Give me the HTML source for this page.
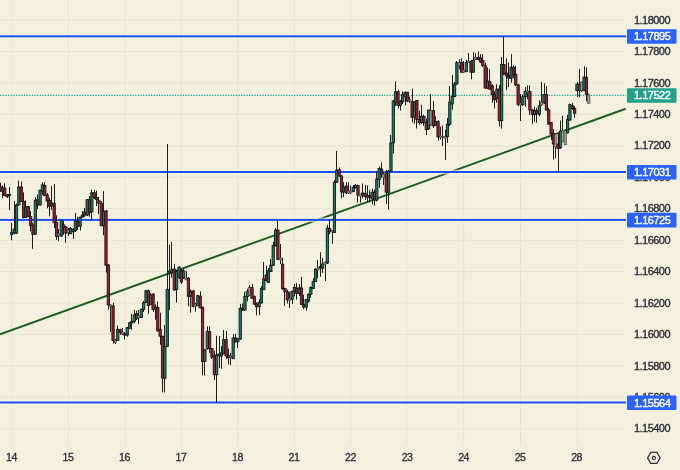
<!DOCTYPE html>
<html><head><meta charset="utf-8"><style>
html,body{margin:0;padding:0;background:#f3f0de;}
text{-webkit-font-smoothing:antialiased;}
svg{will-change:transform;}
body{width:680px;height:470px;overflow:hidden;position:relative;}
</style></head><body>
<svg width="680" height="470" viewBox="0 0 680 470" style="position:absolute;left:0;top:0">
<rect x="0" y="0" width="680" height="470" fill="#f3f0de"/>
<rect x="0" y="19.60" width="624.5" height="1" fill="#e7e3cf"/>
<rect x="0" y="51.04" width="624.5" height="1" fill="#e7e3cf"/>
<rect x="0" y="82.48" width="624.5" height="1" fill="#e7e3cf"/>
<rect x="0" y="113.92" width="624.5" height="1" fill="#e7e3cf"/>
<rect x="0" y="145.36" width="624.5" height="1" fill="#e7e3cf"/>
<rect x="0" y="176.80" width="624.5" height="1" fill="#e7e3cf"/>
<rect x="0" y="208.24" width="624.5" height="1" fill="#e7e3cf"/>
<rect x="0" y="239.68" width="624.5" height="1" fill="#e7e3cf"/>
<rect x="0" y="271.12" width="624.5" height="1" fill="#e7e3cf"/>
<rect x="0" y="302.56" width="624.5" height="1" fill="#e7e3cf"/>
<rect x="0" y="334.00" width="624.5" height="1" fill="#e7e3cf"/>
<rect x="0" y="365.44" width="624.5" height="1" fill="#e7e3cf"/>
<rect x="0" y="396.88" width="624.5" height="1" fill="#e7e3cf"/>
<rect x="0" y="428.32" width="624.5" height="1" fill="#e7e3cf"/>
<rect x="11.50" y="0" width="1" height="445" fill="#e7e3cf"/>
<rect x="68.00" y="0" width="1" height="445" fill="#e7e3cf"/>
<rect x="124.50" y="0" width="1" height="445" fill="#e7e3cf"/>
<rect x="180.90" y="0" width="1" height="445" fill="#e7e3cf"/>
<rect x="237.00" y="0" width="1" height="445" fill="#e7e3cf"/>
<rect x="293.70" y="0" width="1" height="445" fill="#e7e3cf"/>
<rect x="350.30" y="0" width="1" height="445" fill="#e7e3cf"/>
<rect x="406.50" y="0" width="1" height="445" fill="#e7e3cf"/>
<rect x="463.30" y="0" width="1" height="445" fill="#e7e3cf"/>
<rect x="520.00" y="0" width="1" height="445" fill="#e7e3cf"/>
<rect x="576.90" y="0" width="1" height="445" fill="#e7e3cf"/>
<line x1="0" y1="334.3" x2="625.7" y2="108.8" stroke="#1b5e20" stroke-width="2"/>
<rect x="0" y="34.10" width="626" height="1" fill="#fffce2" opacity="0.8"/>
<rect x="0" y="37.50" width="626" height="1" fill="#fffce2" opacity="0.8"/>
<rect x="0" y="35.30" width="626" height="2" fill="#1a4dff"/>
<rect x="0" y="169.80" width="626" height="1" fill="#fffce2" opacity="0.8"/>
<rect x="0" y="173.20" width="626" height="1" fill="#fffce2" opacity="0.8"/>
<rect x="0" y="171.00" width="626" height="2" fill="#1a4dff"/>
<rect x="0" y="217.70" width="626" height="1" fill="#fffce2" opacity="0.8"/>
<rect x="0" y="221.10" width="626" height="1" fill="#fffce2" opacity="0.8"/>
<rect x="0" y="218.90" width="626" height="2" fill="#1a4dff"/>
<rect x="0" y="400.30" width="626" height="1" fill="#fffce2" opacity="0.8"/>
<rect x="0" y="403.70" width="626" height="1" fill="#fffce2" opacity="0.8"/>
<rect x="0" y="401.50" width="626" height="2" fill="#1a4dff"/>
<line x1="0" y1="95.30" x2="626" y2="95.30" stroke="#1ea88e" stroke-width="1.15" stroke-dasharray="1.25 1.4"/>
<rect x="0" y="182.8" width="1" height="9.0" fill="#1e1e1c"/>
<rect x="-1.12" y="186.5" width="2.3" height="3.7" fill="#b5142c" stroke="#111414" stroke-width="0.85"/>
<rect x="2" y="185.4" width="1" height="12.8" fill="#1e1e1c"/>
<rect x="1.23" y="188.0" width="2.3" height="3.3" fill="#0f8068" stroke="#111414" stroke-width="0.85"/>
<rect x="4" y="183.3" width="1" height="12.7" fill="#1e1e1c"/>
<rect x="3.59" y="188.0" width="2.3" height="7.6" fill="#b5142c" stroke="#111414" stroke-width="0.85"/>
<rect x="7" y="194.0" width="1" height="4.0" fill="#1e1e1c"/>
<rect x="5.94" y="195.0" width="2.3" height="1.5" fill="#b5142c" stroke="#111414" stroke-width="0.85"/>
<rect x="9" y="187.0" width="1" height="23.0" fill="#1e1e1c"/>
<rect x="8.29" y="194.5" width="2.3" height="1.0" fill="#0f8068" stroke="#111414" stroke-width="0.85"/>
<rect x="11" y="222.7" width="1" height="17.6" fill="#1e1e1c"/>
<rect x="10.65" y="232.3" width="2.3" height="2.2" fill="#0f8068" stroke="#111414" stroke-width="0.85"/>
<rect x="14" y="200.9" width="1" height="33.6" fill="#1e1e1c"/>
<rect x="13.01" y="229.0" width="2.3" height="4.0" fill="#0f8068" stroke="#111414" stroke-width="0.85"/>
<rect x="16" y="203.5" width="1" height="30.5" fill="#1e1e1c"/>
<rect x="15.36" y="205.0" width="2.3" height="28.0" fill="#0f8068" stroke="#111414" stroke-width="0.85"/>
<rect x="18" y="180.7" width="1" height="24.8" fill="#1e1e1c"/>
<rect x="17.72" y="187.0" width="2.3" height="18.0" fill="#0f8068" stroke="#111414" stroke-width="0.85"/>
<rect x="21" y="181.5" width="1" height="20.5" fill="#1e1e1c"/>
<rect x="20.07" y="187.0" width="2.3" height="14.4" fill="#b5142c" stroke="#111414" stroke-width="0.85"/>
<rect x="23" y="192.4" width="1" height="26.0" fill="#1e1e1c"/>
<rect x="22.43" y="201.4" width="2.3" height="16.0" fill="#b5142c" stroke="#111414" stroke-width="0.85"/>
<rect x="25" y="200.3" width="1" height="17.7" fill="#1e1e1c"/>
<rect x="24.78" y="206.7" width="2.3" height="10.7" fill="#0f8068" stroke="#111414" stroke-width="0.85"/>
<rect x="28" y="206.0" width="1" height="11.0" fill="#1e1e1c"/>
<rect x="27.14" y="206.7" width="2.3" height="9.6" fill="#b5142c" stroke="#111414" stroke-width="0.85"/>
<rect x="30" y="211.0" width="1" height="20.3" fill="#1e1e1c"/>
<rect x="29.49" y="216.6" width="2.3" height="8.9" fill="#b5142c" stroke="#111414" stroke-width="0.85"/>
<rect x="32" y="222.7" width="1" height="26.1" fill="#1e1e1c"/>
<rect x="31.85" y="225.0" width="2.3" height="9.5" fill="#b5142c" stroke="#111414" stroke-width="0.85"/>
<rect x="35" y="197.0" width="1" height="37.5" fill="#1e1e1c"/>
<rect x="34.20" y="200.3" width="2.3" height="33.7" fill="#0f8068" stroke="#111414" stroke-width="0.85"/>
<rect x="37" y="194.5" width="1" height="14.4" fill="#1e1e1c"/>
<rect x="36.55" y="199.8" width="2.3" height="5.2" fill="#b5142c" stroke="#111414" stroke-width="0.85"/>
<rect x="40" y="189.8" width="1" height="15.7" fill="#1e1e1c"/>
<rect x="38.91" y="190.2" width="2.3" height="14.8" fill="#0f8068" stroke="#111414" stroke-width="0.85"/>
<rect x="42" y="182.3" width="1" height="12.7" fill="#1e1e1c"/>
<rect x="41.27" y="184.9" width="2.3" height="6.4" fill="#0f8068" stroke="#111414" stroke-width="0.85"/>
<rect x="44" y="182.3" width="1" height="13.7" fill="#1e1e1c"/>
<rect x="43.62" y="185.4" width="2.3" height="10.2" fill="#b5142c" stroke="#111414" stroke-width="0.85"/>
<rect x="47" y="193.0" width="1" height="15.3" fill="#1e1e1c"/>
<rect x="45.98" y="195.0" width="2.3" height="6.0" fill="#b5142c" stroke="#111414" stroke-width="0.85"/>
<rect x="49" y="197.7" width="1" height="18.6" fill="#1e1e1c"/>
<rect x="48.33" y="200.3" width="2.3" height="5.9" fill="#b5142c" stroke="#111414" stroke-width="0.85"/>
<rect x="51" y="186.0" width="1" height="24.0" fill="#1e1e1c"/>
<rect x="50.68" y="203.0" width="2.3" height="3.0" fill="#0f8068" stroke="#111414" stroke-width="0.85"/>
<rect x="54" y="184.0" width="1" height="44.0" fill="#1e1e1c"/>
<rect x="53.04" y="203.5" width="2.3" height="19.2" fill="#b5142c" stroke="#111414" stroke-width="0.85"/>
<rect x="56" y="215.3" width="1" height="24.5" fill="#1e1e1c"/>
<rect x="55.40" y="222.7" width="2.3" height="13.9" fill="#b5142c" stroke="#111414" stroke-width="0.85"/>
<rect x="58" y="229.0" width="1" height="11.9" fill="#1e1e1c"/>
<rect x="57.75" y="234.0" width="2.3" height="2.0" fill="#a09c92" stroke="#3c3c3a" stroke-width="0.6"/>
<rect x="61" y="220.0" width="1" height="17.0" fill="#1e1e1c"/>
<rect x="60.10" y="220.6" width="2.3" height="15.4" fill="#0f8068" stroke="#111414" stroke-width="0.85"/>
<rect x="63" y="221.0" width="1" height="13.8" fill="#1e1e1c"/>
<rect x="62.46" y="224.9" width="2.3" height="2.7" fill="#b5142c" stroke="#111414" stroke-width="0.85"/>
<rect x="65" y="226.0" width="1" height="16.7" fill="#1e1e1c"/>
<rect x="64.81" y="227.0" width="2.3" height="6.2" fill="#b5142c" stroke="#111414" stroke-width="0.85"/>
<rect x="68" y="228.0" width="1" height="8.0" fill="#1e1e1c"/>
<rect x="67.17" y="230.0" width="2.3" height="2.0" fill="#a09c92" stroke="#3c3c3a" stroke-width="0.6"/>
<rect x="70" y="227.0" width="1" height="7.0" fill="#1e1e1c"/>
<rect x="69.52" y="228.4" width="2.3" height="5.3" fill="#0f8068" stroke="#111414" stroke-width="0.85"/>
<rect x="73" y="228.0" width="1" height="11.0" fill="#1e1e1c"/>
<rect x="71.88" y="229.4" width="2.3" height="2.2" fill="#0f8068" stroke="#111414" stroke-width="0.85"/>
<rect x="75" y="213.0" width="1" height="19.0" fill="#1e1e1c"/>
<rect x="74.23" y="221.0" width="2.3" height="9.5" fill="#0f8068" stroke="#111414" stroke-width="0.85"/>
<rect x="77" y="216.7" width="1" height="13.3" fill="#1e1e1c"/>
<rect x="76.59" y="221.5" width="2.3" height="4.8" fill="#b5142c" stroke="#111414" stroke-width="0.85"/>
<rect x="80" y="216.7" width="1" height="13.8" fill="#1e1e1c"/>
<rect x="78.94" y="217.2" width="2.3" height="9.1" fill="#0f8068" stroke="#111414" stroke-width="0.85"/>
<rect x="82" y="211.0" width="1" height="6.8" fill="#1e1e1c"/>
<rect x="81.30" y="215.0" width="2.3" height="2.0" fill="#0f8068" stroke="#111414" stroke-width="0.85"/>
<rect x="84" y="208.0" width="1" height="9.0" fill="#1e1e1c"/>
<rect x="83.65" y="212.0" width="2.3" height="3.0" fill="#b5142c" stroke="#111414" stroke-width="0.85"/>
<rect x="87" y="199.0" width="1" height="17.0" fill="#1e1e1c"/>
<rect x="86.01" y="199.7" width="2.3" height="15.4" fill="#0f8068" stroke="#111414" stroke-width="0.85"/>
<rect x="89" y="196.0" width="1" height="20.7" fill="#1e1e1c"/>
<rect x="88.36" y="199.7" width="2.3" height="12.7" fill="#b5142c" stroke="#111414" stroke-width="0.85"/>
<rect x="91" y="189.6" width="1" height="31.4" fill="#1e1e1c"/>
<rect x="90.72" y="192.8" width="2.3" height="19.1" fill="#0f8068" stroke="#111414" stroke-width="0.85"/>
<rect x="94" y="190.0" width="1" height="9.0" fill="#1e1e1c"/>
<rect x="93.07" y="192.8" width="2.3" height="4.8" fill="#b5142c" stroke="#111414" stroke-width="0.85"/>
<rect x="96" y="190.6" width="1" height="15.4" fill="#1e1e1c"/>
<rect x="95.43" y="197.6" width="2.3" height="2.1" fill="#b5142c" stroke="#111414" stroke-width="0.85"/>
<rect x="98" y="197.0" width="1" height="17.0" fill="#1e1e1c"/>
<rect x="97.78" y="200.7" width="2.3" height="2.7" fill="#b5142c" stroke="#111414" stroke-width="0.85"/>
<rect x="101" y="201.0" width="1" height="25.3" fill="#1e1e1c"/>
<rect x="100.14" y="203.4" width="2.3" height="22.3" fill="#b5142c" stroke="#111414" stroke-width="0.85"/>
<rect x="103" y="191.2" width="1" height="44.1" fill="#1e1e1c"/>
<rect x="102.49" y="211.4" width="2.3" height="14.3" fill="#0f8068" stroke="#111414" stroke-width="0.85"/>
<rect x="106" y="210.0" width="1" height="62.6" fill="#1e1e1c"/>
<rect x="104.85" y="210.9" width="2.3" height="54.3" fill="#b5142c" stroke="#111414" stroke-width="0.85"/>
<rect x="108" y="264.0" width="1" height="45.6" fill="#1e1e1c"/>
<rect x="107.20" y="265.0" width="2.3" height="39.8" fill="#b5142c" stroke="#111414" stroke-width="0.85"/>
<rect x="110" y="304.3" width="1" height="27.7" fill="#1e1e1c"/>
<rect x="109.56" y="305.0" width="2.3" height="1.5" fill="#a09c92" stroke="#3c3c3a" stroke-width="0.6"/>
<rect x="113" y="302.7" width="1" height="40.9" fill="#1e1e1c"/>
<rect x="111.91" y="305.9" width="2.3" height="34.5" fill="#b5142c" stroke="#111414" stroke-width="0.85"/>
<rect x="115" y="339.0" width="1" height="5.0" fill="#1e1e1c"/>
<rect x="114.27" y="340.4" width="2.3" height="2.1" fill="#a09c92" stroke="#3c3c3a" stroke-width="0.6"/>
<rect x="117" y="325.5" width="1" height="15.5" fill="#1e1e1c"/>
<rect x="116.62" y="329.3" width="2.3" height="11.1" fill="#0f8068" stroke="#111414" stroke-width="0.85"/>
<rect x="120" y="328.7" width="1" height="6.3" fill="#1e1e1c"/>
<rect x="118.98" y="329.8" width="2.3" height="2.6" fill="#b5142c" stroke="#111414" stroke-width="0.85"/>
<rect x="122" y="328.0" width="1" height="7.0" fill="#1e1e1c"/>
<rect x="121.33" y="332.0" width="2.3" height="2.0" fill="#a09c92" stroke="#3c3c3a" stroke-width="0.6"/>
<rect x="124" y="332.0" width="1" height="7.4" fill="#1e1e1c"/>
<rect x="123.69" y="333.5" width="2.3" height="1.6" fill="#b5142c" stroke="#111414" stroke-width="0.85"/>
<rect x="127" y="327.0" width="1" height="9.7" fill="#1e1e1c"/>
<rect x="126.04" y="327.7" width="2.3" height="7.4" fill="#0f8068" stroke="#111414" stroke-width="0.85"/>
<rect x="129" y="322.0" width="1" height="7.0" fill="#1e1e1c"/>
<rect x="128.40" y="322.9" width="2.3" height="5.3" fill="#0f8068" stroke="#111414" stroke-width="0.85"/>
<rect x="131" y="313.8" width="1" height="16.0" fill="#1e1e1c"/>
<rect x="130.75" y="321.3" width="2.3" height="1.6" fill="#0f8068" stroke="#111414" stroke-width="0.85"/>
<rect x="134" y="310.0" width="1" height="13.4" fill="#1e1e1c"/>
<rect x="133.11" y="314.9" width="2.3" height="6.4" fill="#0f8068" stroke="#111414" stroke-width="0.85"/>
<rect x="136" y="310.6" width="1" height="9.4" fill="#1e1e1c"/>
<rect x="135.47" y="313.8" width="2.3" height="4.8" fill="#b5142c" stroke="#111414" stroke-width="0.85"/>
<rect x="138" y="310.0" width="1" height="14.0" fill="#1e1e1c"/>
<rect x="137.82" y="316.0" width="2.3" height="2.0" fill="#a09c92" stroke="#3c3c3a" stroke-width="0.6"/>
<rect x="141" y="308.5" width="1" height="9.5" fill="#1e1e1c"/>
<rect x="140.18" y="309.6" width="2.3" height="8.0" fill="#0f8068" stroke="#111414" stroke-width="0.85"/>
<rect x="143" y="301.1" width="1" height="10.9" fill="#1e1e1c"/>
<rect x="142.53" y="302.7" width="2.3" height="6.9" fill="#0f8068" stroke="#111414" stroke-width="0.85"/>
<rect x="146" y="290.2" width="1" height="12.8" fill="#1e1e1c"/>
<rect x="144.88" y="290.7" width="2.3" height="11.7" fill="#0f8068" stroke="#111414" stroke-width="0.85"/>
<rect x="148" y="289.7" width="1" height="24.1" fill="#1e1e1c"/>
<rect x="147.24" y="290.7" width="2.3" height="14.9" fill="#b5142c" stroke="#111414" stroke-width="0.85"/>
<rect x="150" y="293.0" width="1" height="12.0" fill="#1e1e1c"/>
<rect x="149.59" y="295.0" width="2.3" height="9.6" fill="#0f8068" stroke="#111414" stroke-width="0.85"/>
<rect x="153" y="293.5" width="1" height="18.5" fill="#1e1e1c"/>
<rect x="151.95" y="294.0" width="2.3" height="15.6" fill="#b5142c" stroke="#111414" stroke-width="0.85"/>
<rect x="155" y="304.3" width="1" height="15.4" fill="#1e1e1c"/>
<rect x="154.31" y="307.0" width="2.3" height="2.0" fill="#0f8068" stroke="#111414" stroke-width="0.85"/>
<rect x="157" y="301.4" width="1" height="30.1" fill="#1e1e1c"/>
<rect x="156.66" y="307.4" width="2.3" height="23.5" fill="#b5142c" stroke="#111414" stroke-width="0.85"/>
<rect x="160" y="312.8" width="1" height="31.9" fill="#1e1e1c"/>
<rect x="159.02" y="329.3" width="2.3" height="6.9" fill="#b5142c" stroke="#111414" stroke-width="0.85"/>
<rect x="162" y="336.0" width="1" height="56.4" fill="#1e1e1c"/>
<rect x="161.37" y="336.2" width="2.3" height="41.8" fill="#b5142c" stroke="#111414" stroke-width="0.85"/>
<rect x="164" y="325.0" width="1" height="67.4" fill="#1e1e1c"/>
<rect x="163.72" y="346.4" width="2.3" height="31.9" fill="#0f8068" stroke="#111414" stroke-width="0.85"/>
<rect x="167" y="144.0" width="1" height="203.0" fill="#1e1e1c"/>
<rect x="166.08" y="289.4" width="2.3" height="57.0" fill="#0f8068" stroke="#111414" stroke-width="0.85"/>
<rect x="169" y="245.0" width="1" height="65.0" fill="#1e1e1c"/>
<rect x="168.44" y="271.0" width="2.3" height="2.0" fill="#0f8068" stroke="#111414" stroke-width="0.85"/>
<rect x="171" y="242.0" width="1" height="35.7" fill="#1e1e1c"/>
<rect x="170.79" y="269.7" width="2.3" height="3.2" fill="#0f8068" stroke="#111414" stroke-width="0.85"/>
<rect x="174" y="263.8" width="1" height="26.7" fill="#1e1e1c"/>
<rect x="173.15" y="269.0" width="2.3" height="21.0" fill="#b5142c" stroke="#111414" stroke-width="0.85"/>
<rect x="176" y="270.0" width="1" height="32.6" fill="#1e1e1c"/>
<rect x="175.50" y="271.3" width="2.3" height="18.1" fill="#0f8068" stroke="#111414" stroke-width="0.85"/>
<rect x="179" y="266.5" width="1" height="12.5" fill="#1e1e1c"/>
<rect x="177.86" y="267.0" width="2.3" height="10.7" fill="#0f8068" stroke="#111414" stroke-width="0.85"/>
<rect x="181" y="268.0" width="1" height="16.0" fill="#1e1e1c"/>
<rect x="180.21" y="270.7" width="2.3" height="11.3" fill="#b5142c" stroke="#111414" stroke-width="0.85"/>
<rect x="183" y="268.6" width="1" height="10.4" fill="#1e1e1c"/>
<rect x="182.56" y="271.0" width="2.3" height="7.0" fill="#0f8068" stroke="#111414" stroke-width="0.85"/>
<rect x="186" y="271.3" width="1" height="8.7" fill="#1e1e1c"/>
<rect x="184.92" y="278.2" width="2.3" height="1.8" fill="#a09c92" stroke="#3c3c3a" stroke-width="0.6"/>
<rect x="188" y="277.0" width="1" height="29.3" fill="#1e1e1c"/>
<rect x="187.28" y="278.2" width="2.3" height="18.1" fill="#b5142c" stroke="#111414" stroke-width="0.85"/>
<rect x="190" y="289.4" width="1" height="23.3" fill="#1e1e1c"/>
<rect x="189.63" y="291.4" width="2.3" height="4.8" fill="#0f8068" stroke="#111414" stroke-width="0.85"/>
<rect x="193" y="289.9" width="1" height="17.5" fill="#1e1e1c"/>
<rect x="191.99" y="290.9" width="2.3" height="15.4" fill="#b5142c" stroke="#111414" stroke-width="0.85"/>
<rect x="195" y="303.0" width="1" height="8.6" fill="#1e1e1c"/>
<rect x="194.34" y="304.0" width="2.3" height="2.3" fill="#a09c92" stroke="#3c3c3a" stroke-width="0.6"/>
<rect x="197" y="295.0" width="1" height="11.0" fill="#1e1e1c"/>
<rect x="196.69" y="295.6" width="2.3" height="10.1" fill="#0f8068" stroke="#111414" stroke-width="0.85"/>
<rect x="200" y="291.4" width="1" height="17.1" fill="#1e1e1c"/>
<rect x="199.05" y="296.2" width="2.3" height="11.7" fill="#b5142c" stroke="#111414" stroke-width="0.85"/>
<rect x="202" y="306.5" width="1" height="68.9" fill="#1e1e1c"/>
<rect x="201.41" y="307.3" width="2.3" height="54.1" fill="#b5142c" stroke="#111414" stroke-width="0.85"/>
<rect x="204" y="349.0" width="1" height="26.4" fill="#1e1e1c"/>
<rect x="203.76" y="349.7" width="2.3" height="11.7" fill="#0f8068" stroke="#111414" stroke-width="0.85"/>
<rect x="207" y="326.3" width="1" height="23.4" fill="#1e1e1c"/>
<rect x="206.12" y="331.6" width="2.3" height="17.0" fill="#0f8068" stroke="#111414" stroke-width="0.85"/>
<rect x="209" y="326.3" width="1" height="26.6" fill="#1e1e1c"/>
<rect x="208.47" y="331.6" width="2.3" height="17.0" fill="#b5142c" stroke="#111414" stroke-width="0.85"/>
<rect x="211" y="348.0" width="1" height="11.0" fill="#1e1e1c"/>
<rect x="210.83" y="348.6" width="2.3" height="8.5" fill="#b5142c" stroke="#111414" stroke-width="0.85"/>
<rect x="214" y="350.7" width="1" height="29.2" fill="#1e1e1c"/>
<rect x="213.18" y="356.0" width="2.3" height="18.7" fill="#b5142c" stroke="#111414" stroke-width="0.85"/>
<rect x="216" y="335.8" width="1" height="66.8" fill="#1e1e1c"/>
<rect x="215.53" y="355.0" width="2.3" height="19.7" fill="#0f8068" stroke="#111414" stroke-width="0.85"/>
<rect x="219" y="336.0" width="1" height="32.0" fill="#1e1e1c"/>
<rect x="217.89" y="354.0" width="2.3" height="2.0" fill="#b5142c" stroke="#111414" stroke-width="0.85"/>
<rect x="221" y="346.0" width="1" height="22.8" fill="#1e1e1c"/>
<rect x="220.25" y="352.9" width="2.3" height="3.1" fill="#0f8068" stroke="#111414" stroke-width="0.85"/>
<rect x="223" y="330.0" width="1" height="24.5" fill="#1e1e1c"/>
<rect x="222.60" y="339.6" width="2.3" height="14.3" fill="#0f8068" stroke="#111414" stroke-width="0.85"/>
<rect x="226" y="331.0" width="1" height="28.2" fill="#1e1e1c"/>
<rect x="224.96" y="339.6" width="2.3" height="16.4" fill="#b5142c" stroke="#111414" stroke-width="0.85"/>
<rect x="228" y="348.6" width="1" height="15.8" fill="#1e1e1c"/>
<rect x="227.31" y="355.5" width="2.3" height="2.1" fill="#b5142c" stroke="#111414" stroke-width="0.85"/>
<rect x="230" y="352.9" width="1" height="12.2" fill="#1e1e1c"/>
<rect x="229.66" y="356.0" width="2.3" height="1.5" fill="#a09c92" stroke="#3c3c3a" stroke-width="0.6"/>
<rect x="233" y="334.2" width="1" height="24.8" fill="#1e1e1c"/>
<rect x="232.02" y="338.0" width="2.3" height="20.7" fill="#0f8068" stroke="#111414" stroke-width="0.85"/>
<rect x="235" y="333.7" width="1" height="8.8" fill="#1e1e1c"/>
<rect x="234.38" y="338.0" width="2.3" height="3.7" fill="#b5142c" stroke="#111414" stroke-width="0.85"/>
<rect x="237" y="338.0" width="1" height="10.0" fill="#1e1e1c"/>
<rect x="236.73" y="339.0" width="2.3" height="2.7" fill="#0f8068" stroke="#111414" stroke-width="0.85"/>
<rect x="240" y="304.0" width="1" height="36.0" fill="#1e1e1c"/>
<rect x="239.09" y="308.3" width="2.3" height="30.7" fill="#0f8068" stroke="#111414" stroke-width="0.85"/>
<rect x="242" y="303.5" width="1" height="7.5" fill="#1e1e1c"/>
<rect x="241.44" y="308.3" width="2.3" height="1.7" fill="#b5142c" stroke="#111414" stroke-width="0.85"/>
<rect x="244" y="291.8" width="1" height="19.2" fill="#1e1e1c"/>
<rect x="243.80" y="296.6" width="2.3" height="13.4" fill="#0f8068" stroke="#111414" stroke-width="0.85"/>
<rect x="247" y="288.6" width="1" height="12.8" fill="#1e1e1c"/>
<rect x="246.15" y="291.3" width="2.3" height="5.3" fill="#0f8068" stroke="#111414" stroke-width="0.85"/>
<rect x="249" y="285.0" width="1" height="11.0" fill="#1e1e1c"/>
<rect x="248.50" y="287.6" width="2.3" height="7.9" fill="#a09c92" stroke="#3c3c3a" stroke-width="0.6"/>
<rect x="252" y="283.9" width="1" height="15.1" fill="#1e1e1c"/>
<rect x="250.86" y="287.6" width="2.3" height="10.6" fill="#b5142c" stroke="#111414" stroke-width="0.85"/>
<rect x="254" y="295.5" width="1" height="9.5" fill="#1e1e1c"/>
<rect x="253.22" y="296.6" width="2.3" height="7.4" fill="#b5142c" stroke="#111414" stroke-width="0.85"/>
<rect x="256" y="302.5" width="1" height="12.7" fill="#1e1e1c"/>
<rect x="255.57" y="304.0" width="2.3" height="2.7" fill="#b5142c" stroke="#111414" stroke-width="0.85"/>
<rect x="259" y="299.3" width="1" height="15.9" fill="#1e1e1c"/>
<rect x="257.93" y="302.5" width="2.3" height="4.2" fill="#0f8068" stroke="#111414" stroke-width="0.85"/>
<rect x="261" y="286.0" width="1" height="17.5" fill="#1e1e1c"/>
<rect x="260.28" y="288.6" width="2.3" height="14.4" fill="#0f8068" stroke="#111414" stroke-width="0.85"/>
<rect x="263" y="262.0" width="1" height="28.0" fill="#1e1e1c"/>
<rect x="262.63" y="279.0" width="2.3" height="10.7" fill="#0f8068" stroke="#111414" stroke-width="0.85"/>
<rect x="266" y="265.8" width="1" height="15.7" fill="#1e1e1c"/>
<rect x="264.99" y="275.0" width="2.3" height="5.7" fill="#b5142c" stroke="#111414" stroke-width="0.85"/>
<rect x="268" y="268.0" width="1" height="15.0" fill="#1e1e1c"/>
<rect x="267.35" y="270.6" width="2.3" height="11.7" fill="#0f8068" stroke="#111414" stroke-width="0.85"/>
<rect x="270" y="258.9" width="1" height="13.1" fill="#1e1e1c"/>
<rect x="269.70" y="265.2" width="2.3" height="6.4" fill="#0f8068" stroke="#111414" stroke-width="0.85"/>
<rect x="273" y="241.8" width="1" height="24.2" fill="#1e1e1c"/>
<rect x="272.06" y="245.6" width="2.3" height="19.6" fill="#0f8068" stroke="#111414" stroke-width="0.85"/>
<rect x="275" y="228.0" width="1" height="18.5" fill="#1e1e1c"/>
<rect x="274.41" y="230.1" width="2.3" height="15.5" fill="#0f8068" stroke="#111414" stroke-width="0.85"/>
<rect x="277" y="220.3" width="1" height="39.7" fill="#1e1e1c"/>
<rect x="276.77" y="230.1" width="2.3" height="29.3" fill="#b5142c" stroke="#111414" stroke-width="0.85"/>
<rect x="280" y="244.0" width="1" height="20.0" fill="#1e1e1c"/>
<rect x="279.12" y="258.0" width="2.3" height="2.0" fill="#a09c92" stroke="#3c3c3a" stroke-width="0.6"/>
<rect x="282" y="257.8" width="1" height="32.2" fill="#1e1e1c"/>
<rect x="281.48" y="264.2" width="2.3" height="24.4" fill="#b5142c" stroke="#111414" stroke-width="0.85"/>
<rect x="284" y="287.6" width="1" height="18.1" fill="#1e1e1c"/>
<rect x="283.83" y="288.6" width="2.3" height="3.2" fill="#b5142c" stroke="#111414" stroke-width="0.85"/>
<rect x="287" y="289.7" width="1" height="13.8" fill="#1e1e1c"/>
<rect x="286.19" y="291.8" width="2.3" height="8.0" fill="#b5142c" stroke="#111414" stroke-width="0.85"/>
<rect x="289" y="291.8" width="1" height="16.0" fill="#1e1e1c"/>
<rect x="288.54" y="298.7" width="2.3" height="1.6" fill="#a09c92" stroke="#3c3c3a" stroke-width="0.6"/>
<rect x="292" y="290.5" width="1" height="13.5" fill="#1e1e1c"/>
<rect x="290.90" y="291.4" width="2.3" height="7.9" fill="#0f8068" stroke="#111414" stroke-width="0.85"/>
<rect x="294" y="284.0" width="1" height="12.4" fill="#1e1e1c"/>
<rect x="293.25" y="287.4" width="2.3" height="3.7" fill="#0f8068" stroke="#111414" stroke-width="0.85"/>
<rect x="296" y="283.0" width="1" height="16.6" fill="#1e1e1c"/>
<rect x="295.61" y="288.0" width="2.3" height="5.5" fill="#b5142c" stroke="#111414" stroke-width="0.85"/>
<rect x="299" y="284.0" width="1" height="12.0" fill="#1e1e1c"/>
<rect x="297.96" y="288.0" width="2.3" height="5.5" fill="#0f8068" stroke="#111414" stroke-width="0.85"/>
<rect x="301" y="276.8" width="1" height="28.2" fill="#1e1e1c"/>
<rect x="300.32" y="288.0" width="2.3" height="16.4" fill="#b5142c" stroke="#111414" stroke-width="0.85"/>
<rect x="303" y="294.8" width="1" height="14.3" fill="#1e1e1c"/>
<rect x="302.67" y="304.4" width="2.3" height="2.7" fill="#b5142c" stroke="#111414" stroke-width="0.85"/>
<rect x="306" y="298.9" width="1" height="11.6" fill="#1e1e1c"/>
<rect x="305.03" y="299.6" width="2.3" height="7.5" fill="#0f8068" stroke="#111414" stroke-width="0.85"/>
<rect x="308" y="293.5" width="1" height="9.1" fill="#1e1e1c"/>
<rect x="307.38" y="294.2" width="2.3" height="6.8" fill="#0f8068" stroke="#111414" stroke-width="0.85"/>
<rect x="310" y="286.4" width="1" height="11.2" fill="#1e1e1c"/>
<rect x="309.74" y="287.4" width="2.3" height="6.8" fill="#0f8068" stroke="#111414" stroke-width="0.85"/>
<rect x="313" y="278.2" width="1" height="10.8" fill="#1e1e1c"/>
<rect x="312.09" y="281.6" width="2.3" height="6.8" fill="#0f8068" stroke="#111414" stroke-width="0.85"/>
<rect x="315" y="268.0" width="1" height="14.0" fill="#1e1e1c"/>
<rect x="314.45" y="269.4" width="2.3" height="12.2" fill="#0f8068" stroke="#111414" stroke-width="0.85"/>
<rect x="317" y="260.2" width="1" height="18.0" fill="#1e1e1c"/>
<rect x="316.80" y="268.0" width="2.3" height="2.0" fill="#a09c92" stroke="#3c3c3a" stroke-width="0.6"/>
<rect x="320" y="252.2" width="1" height="24.5" fill="#1e1e1c"/>
<rect x="319.16" y="266.6" width="2.3" height="1.6" fill="#b5142c" stroke="#111414" stroke-width="0.85"/>
<rect x="322" y="258.0" width="1" height="15.0" fill="#1e1e1c"/>
<rect x="321.51" y="264.0" width="2.3" height="4.2" fill="#0f8068" stroke="#111414" stroke-width="0.85"/>
<rect x="325" y="261.3" width="1" height="19.7" fill="#1e1e1c"/>
<rect x="323.87" y="262.3" width="2.3" height="2.2" fill="#a09c92" stroke="#3c3c3a" stroke-width="0.6"/>
<rect x="327" y="224.7" width="1" height="39.3" fill="#1e1e1c"/>
<rect x="326.22" y="228.0" width="2.3" height="35.0" fill="#0f8068" stroke="#111414" stroke-width="0.85"/>
<rect x="329" y="219.6" width="1" height="14.7" fill="#1e1e1c"/>
<rect x="328.58" y="228.6" width="2.3" height="3.2" fill="#b5142c" stroke="#111414" stroke-width="0.85"/>
<rect x="332" y="230.0" width="1" height="13.9" fill="#1e1e1c"/>
<rect x="330.93" y="230.5" width="2.3" height="1.5" fill="#a09c92" stroke="#3c3c3a" stroke-width="0.6"/>
<rect x="334" y="180.0" width="1" height="53.0" fill="#1e1e1c"/>
<rect x="333.29" y="182.3" width="2.3" height="50.1" fill="#0f8068" stroke="#111414" stroke-width="0.85"/>
<rect x="336" y="151.0" width="1" height="32.0" fill="#1e1e1c"/>
<rect x="335.64" y="170.1" width="2.3" height="12.2" fill="#0f8068" stroke="#111414" stroke-width="0.85"/>
<rect x="339" y="167.4" width="1" height="9.6" fill="#1e1e1c"/>
<rect x="338.00" y="169.6" width="2.3" height="6.4" fill="#b5142c" stroke="#111414" stroke-width="0.85"/>
<rect x="341" y="174.9" width="1" height="23.4" fill="#1e1e1c"/>
<rect x="340.35" y="176.0" width="2.3" height="15.9" fill="#b5142c" stroke="#111414" stroke-width="0.85"/>
<rect x="343" y="182.3" width="1" height="14.9" fill="#1e1e1c"/>
<rect x="342.71" y="187.1" width="2.3" height="4.8" fill="#0f8068" stroke="#111414" stroke-width="0.85"/>
<rect x="346" y="182.3" width="1" height="11.7" fill="#1e1e1c"/>
<rect x="345.06" y="186.0" width="2.3" height="7.0" fill="#b5142c" stroke="#111414" stroke-width="0.85"/>
<rect x="348" y="182.3" width="1" height="11.7" fill="#1e1e1c"/>
<rect x="347.42" y="190.9" width="2.3" height="2.1" fill="#a09c92" stroke="#3c3c3a" stroke-width="0.6"/>
<rect x="350" y="185.5" width="1" height="8.5" fill="#1e1e1c"/>
<rect x="349.77" y="190.9" width="2.3" height="2.1" fill="#a09c92" stroke="#3c3c3a" stroke-width="0.6"/>
<rect x="353" y="185.0" width="1" height="7.0" fill="#1e1e1c"/>
<rect x="352.13" y="187.1" width="2.3" height="4.3" fill="#0f8068" stroke="#111414" stroke-width="0.85"/>
<rect x="355" y="184.0" width="1" height="4.5" fill="#1e1e1c"/>
<rect x="354.48" y="185.5" width="2.3" height="2.2" fill="#0f8068" stroke="#111414" stroke-width="0.85"/>
<rect x="357" y="184.5" width="1" height="18.1" fill="#1e1e1c"/>
<rect x="356.84" y="185.5" width="2.3" height="9.6" fill="#b5142c" stroke="#111414" stroke-width="0.85"/>
<rect x="360" y="194.0" width="1" height="8.6" fill="#1e1e1c"/>
<rect x="359.19" y="194.0" width="2.3" height="2.2" fill="#a09c92" stroke="#3c3c3a" stroke-width="0.6"/>
<rect x="362" y="183.4" width="1" height="14.9" fill="#1e1e1c"/>
<rect x="361.55" y="193.0" width="2.3" height="2.1" fill="#0f8068" stroke="#111414" stroke-width="0.85"/>
<rect x="365" y="185.0" width="1" height="14.9" fill="#1e1e1c"/>
<rect x="363.90" y="193.5" width="2.3" height="3.2" fill="#b5142c" stroke="#111414" stroke-width="0.85"/>
<rect x="367" y="185.5" width="1" height="17.3" fill="#1e1e1c"/>
<rect x="366.26" y="195.6" width="2.3" height="1.6" fill="#0f8068" stroke="#111414" stroke-width="0.85"/>
<rect x="369" y="189.8" width="1" height="12.8" fill="#1e1e1c"/>
<rect x="368.61" y="195.6" width="2.3" height="1.6" fill="#b5142c" stroke="#111414" stroke-width="0.85"/>
<rect x="372" y="188.7" width="1" height="16.0" fill="#1e1e1c"/>
<rect x="370.97" y="192.2" width="2.3" height="6.6" fill="#0f8068" stroke="#111414" stroke-width="0.85"/>
<rect x="374" y="189.6" width="1" height="16.1" fill="#1e1e1c"/>
<rect x="373.32" y="192.2" width="2.3" height="7.9" fill="#b5142c" stroke="#111414" stroke-width="0.85"/>
<rect x="376" y="171.7" width="1" height="29.8" fill="#1e1e1c"/>
<rect x="375.68" y="179.0" width="2.3" height="21.1" fill="#0f8068" stroke="#111414" stroke-width="0.85"/>
<rect x="379" y="166.5" width="1" height="21.2" fill="#1e1e1c"/>
<rect x="378.03" y="168.5" width="2.3" height="11.2" fill="#0f8068" stroke="#111414" stroke-width="0.85"/>
<rect x="381" y="162.5" width="1" height="15.2" fill="#1e1e1c"/>
<rect x="380.39" y="169.1" width="2.3" height="5.3" fill="#b5142c" stroke="#111414" stroke-width="0.85"/>
<rect x="383" y="172.4" width="1" height="12.6" fill="#1e1e1c"/>
<rect x="382.74" y="174.0" width="2.3" height="4.0" fill="#a09c92" stroke="#3c3c3a" stroke-width="0.6"/>
<rect x="386" y="169.8" width="1" height="34.3" fill="#1e1e1c"/>
<rect x="385.10" y="173.7" width="2.3" height="18.5" fill="#b5142c" stroke="#111414" stroke-width="0.85"/>
<rect x="388" y="170.0" width="1" height="39.4" fill="#1e1e1c"/>
<rect x="387.45" y="171.1" width="2.3" height="21.1" fill="#0f8068" stroke="#111414" stroke-width="0.85"/>
<rect x="390" y="134.9" width="1" height="37.1" fill="#1e1e1c"/>
<rect x="389.81" y="142.9" width="2.3" height="28.2" fill="#0f8068" stroke="#111414" stroke-width="0.85"/>
<rect x="393" y="99.9" width="1" height="53.6" fill="#1e1e1c"/>
<rect x="392.16" y="101.0" width="2.3" height="41.9" fill="#0f8068" stroke="#111414" stroke-width="0.85"/>
<rect x="395" y="81.3" width="1" height="24.7" fill="#1e1e1c"/>
<rect x="394.52" y="91.7" width="2.3" height="10.5" fill="#0f8068" stroke="#111414" stroke-width="0.85"/>
<rect x="398" y="89.8" width="1" height="18.6" fill="#1e1e1c"/>
<rect x="396.87" y="91.7" width="2.3" height="13.8" fill="#b5142c" stroke="#111414" stroke-width="0.85"/>
<rect x="400" y="99.9" width="1" height="10.7" fill="#1e1e1c"/>
<rect x="399.23" y="101.7" width="2.3" height="3.8" fill="#0f8068" stroke="#111414" stroke-width="0.85"/>
<rect x="402" y="91.4" width="1" height="12.6" fill="#1e1e1c"/>
<rect x="401.58" y="94.5" width="2.3" height="7.2" fill="#0f8068" stroke="#111414" stroke-width="0.85"/>
<rect x="405" y="91.4" width="1" height="14.1" fill="#1e1e1c"/>
<rect x="403.94" y="92.3" width="2.3" height="4.4" fill="#0f8068" stroke="#111414" stroke-width="0.85"/>
<rect x="407" y="92.0" width="1" height="10.0" fill="#1e1e1c"/>
<rect x="406.29" y="92.3" width="2.3" height="8.8" fill="#b5142c" stroke="#111414" stroke-width="0.85"/>
<rect x="409" y="96.7" width="1" height="6.1" fill="#1e1e1c"/>
<rect x="408.65" y="99.8" width="2.3" height="1.2" fill="#a09c92" stroke="#3c3c3a" stroke-width="0.6"/>
<rect x="412" y="88.7" width="1" height="33.9" fill="#1e1e1c"/>
<rect x="411.00" y="101.7" width="2.3" height="15.6" fill="#b5142c" stroke="#111414" stroke-width="0.85"/>
<rect x="414" y="101.0" width="1" height="22.7" fill="#1e1e1c"/>
<rect x="413.36" y="102.0" width="2.3" height="14.8" fill="#0f8068" stroke="#111414" stroke-width="0.85"/>
<rect x="416" y="100.0" width="1" height="28.5" fill="#1e1e1c"/>
<rect x="415.71" y="100.4" width="2.3" height="19.0" fill="#b5142c" stroke="#111414" stroke-width="0.85"/>
<rect x="419" y="110.6" width="1" height="14.2" fill="#1e1e1c"/>
<rect x="418.07" y="119.4" width="2.3" height="3.2" fill="#b5142c" stroke="#111414" stroke-width="0.85"/>
<rect x="421" y="104.7" width="1" height="19.3" fill="#1e1e1c"/>
<rect x="420.42" y="116.3" width="2.3" height="6.3" fill="#0f8068" stroke="#111414" stroke-width="0.85"/>
<rect x="423" y="114.7" width="1" height="11.1" fill="#1e1e1c"/>
<rect x="422.78" y="116.3" width="2.3" height="6.3" fill="#b5142c" stroke="#111414" stroke-width="0.85"/>
<rect x="426" y="118.4" width="1" height="16.5" fill="#1e1e1c"/>
<rect x="425.13" y="122.6" width="2.3" height="7.0" fill="#b5142c" stroke="#111414" stroke-width="0.85"/>
<rect x="428" y="110.0" width="1" height="20.0" fill="#1e1e1c"/>
<rect x="427.49" y="110.0" width="2.3" height="19.0" fill="#0f8068" stroke="#111414" stroke-width="0.85"/>
<rect x="430" y="94.1" width="1" height="31.9" fill="#1e1e1c"/>
<rect x="429.84" y="110.6" width="2.3" height="14.2" fill="#a09c92" stroke="#3c3c3a" stroke-width="0.6"/>
<rect x="433" y="101.0" width="1" height="27.0" fill="#1e1e1c"/>
<rect x="432.20" y="110.6" width="2.3" height="15.2" fill="#b5142c" stroke="#111414" stroke-width="0.85"/>
<rect x="435" y="116.3" width="1" height="9.7" fill="#1e1e1c"/>
<rect x="434.55" y="121.6" width="2.3" height="3.7" fill="#0f8068" stroke="#111414" stroke-width="0.85"/>
<rect x="438" y="120.0" width="1" height="20.7" fill="#1e1e1c"/>
<rect x="436.91" y="121.6" width="2.3" height="15.4" fill="#b5142c" stroke="#111414" stroke-width="0.85"/>
<rect x="440" y="126.6" width="1" height="13.1" fill="#1e1e1c"/>
<rect x="439.26" y="136.0" width="2.3" height="1.5" fill="#a09c92" stroke="#3c3c3a" stroke-width="0.6"/>
<rect x="442" y="125.3" width="1" height="20.7" fill="#1e1e1c"/>
<rect x="441.62" y="136.5" width="2.3" height="1.0" fill="#a09c92" stroke="#3c3c3a" stroke-width="0.6"/>
<rect x="445" y="129.8" width="1" height="30.1" fill="#1e1e1c"/>
<rect x="443.97" y="136.5" width="2.3" height="2.1" fill="#a09c92" stroke="#3c3c3a" stroke-width="0.6"/>
<rect x="447" y="117.9" width="1" height="25.0" fill="#1e1e1c"/>
<rect x="446.33" y="124.2" width="2.3" height="12.3" fill="#0f8068" stroke="#111414" stroke-width="0.85"/>
<rect x="449" y="86.0" width="1" height="40.0" fill="#1e1e1c"/>
<rect x="448.68" y="102.0" width="2.3" height="22.2" fill="#0f8068" stroke="#111414" stroke-width="0.85"/>
<rect x="452" y="75.0" width="1" height="34.6" fill="#1e1e1c"/>
<rect x="451.04" y="96.6" width="2.3" height="7.4" fill="#0f8068" stroke="#111414" stroke-width="0.85"/>
<rect x="454" y="82.0" width="1" height="15.0" fill="#1e1e1c"/>
<rect x="453.39" y="84.0" width="2.3" height="12.7" fill="#0f8068" stroke="#111414" stroke-width="0.85"/>
<rect x="456" y="61.0" width="1" height="24.0" fill="#1e1e1c"/>
<rect x="455.75" y="62.6" width="2.3" height="21.4" fill="#0f8068" stroke="#111414" stroke-width="0.85"/>
<rect x="459" y="59.3" width="1" height="10.1" fill="#1e1e1c"/>
<rect x="458.10" y="62.6" width="2.3" height="3.2" fill="#a09c92" stroke="#3c3c3a" stroke-width="0.6"/>
<rect x="461" y="58.4" width="1" height="14.2" fill="#1e1e1c"/>
<rect x="460.46" y="62.6" width="2.3" height="9.6" fill="#b5142c" stroke="#111414" stroke-width="0.85"/>
<rect x="463" y="61.0" width="1" height="12.0" fill="#1e1e1c"/>
<rect x="462.81" y="70.0" width="2.3" height="2.1" fill="#a09c92" stroke="#3c3c3a" stroke-width="0.6"/>
<rect x="466" y="59.9" width="1" height="11.8" fill="#1e1e1c"/>
<rect x="465.17" y="62.6" width="2.3" height="9.1" fill="#0f8068" stroke="#111414" stroke-width="0.85"/>
<rect x="468" y="53.0" width="1" height="9.6" fill="#1e1e1c"/>
<rect x="467.52" y="61.0" width="2.3" height="1.6" fill="#a09c92" stroke="#3c3c3a" stroke-width="0.6"/>
<rect x="471" y="60.0" width="1" height="19.5" fill="#1e1e1c"/>
<rect x="469.88" y="61.6" width="2.3" height="10.6" fill="#b5142c" stroke="#111414" stroke-width="0.85"/>
<rect x="473" y="52.1" width="1" height="20.9" fill="#1e1e1c"/>
<rect x="472.23" y="60.0" width="2.3" height="12.1" fill="#0f8068" stroke="#111414" stroke-width="0.85"/>
<rect x="475" y="53.1" width="1" height="6.9" fill="#1e1e1c"/>
<rect x="474.59" y="57.4" width="2.3" height="1.9" fill="#a09c92" stroke="#3c3c3a" stroke-width="0.6"/>
<rect x="478" y="51.5" width="1" height="8.5" fill="#1e1e1c"/>
<rect x="476.94" y="57.4" width="2.3" height="2.1" fill="#b5142c" stroke="#111414" stroke-width="0.85"/>
<rect x="480" y="54.2" width="1" height="8.8" fill="#1e1e1c"/>
<rect x="479.30" y="57.9" width="2.3" height="4.1" fill="#b5142c" stroke="#111414" stroke-width="0.85"/>
<rect x="482" y="54.2" width="1" height="12.6" fill="#1e1e1c"/>
<rect x="481.65" y="60.4" width="2.3" height="5.3" fill="#b5142c" stroke="#111414" stroke-width="0.85"/>
<rect x="485" y="62.7" width="1" height="26.3" fill="#1e1e1c"/>
<rect x="484.01" y="65.7" width="2.3" height="22.3" fill="#b5142c" stroke="#111414" stroke-width="0.85"/>
<rect x="487" y="67.3" width="1" height="21.7" fill="#1e1e1c"/>
<rect x="486.36" y="81.1" width="2.3" height="6.9" fill="#0f8068" stroke="#111414" stroke-width="0.85"/>
<rect x="489" y="69.0" width="1" height="21.0" fill="#1e1e1c"/>
<rect x="488.72" y="81.7" width="2.3" height="7.4" fill="#b5142c" stroke="#111414" stroke-width="0.85"/>
<rect x="492" y="84.3" width="1" height="18.4" fill="#1e1e1c"/>
<rect x="491.07" y="85.9" width="2.3" height="8.5" fill="#b5142c" stroke="#111414" stroke-width="0.85"/>
<rect x="494" y="91.2" width="1" height="17.3" fill="#1e1e1c"/>
<rect x="493.43" y="94.4" width="2.3" height="5.3" fill="#b5142c" stroke="#111414" stroke-width="0.85"/>
<rect x="496" y="84.3" width="1" height="18.4" fill="#1e1e1c"/>
<rect x="495.78" y="89.1" width="2.3" height="9.6" fill="#0f8068" stroke="#111414" stroke-width="0.85"/>
<rect x="499" y="84.9" width="1" height="41.7" fill="#1e1e1c"/>
<rect x="498.14" y="89.1" width="2.3" height="31.6" fill="#b5142c" stroke="#111414" stroke-width="0.85"/>
<rect x="501" y="56.9" width="1" height="71.8" fill="#1e1e1c"/>
<rect x="500.49" y="64.6" width="2.3" height="56.1" fill="#0f8068" stroke="#111414" stroke-width="0.85"/>
<rect x="503" y="36.6" width="1" height="38.4" fill="#1e1e1c"/>
<rect x="502.85" y="64.6" width="2.3" height="9.6" fill="#b5142c" stroke="#111414" stroke-width="0.85"/>
<rect x="506" y="58.3" width="1" height="31.9" fill="#1e1e1c"/>
<rect x="505.20" y="73.1" width="2.3" height="2.2" fill="#b5142c" stroke="#111414" stroke-width="0.85"/>
<rect x="508" y="62.5" width="1" height="24.5" fill="#1e1e1c"/>
<rect x="507.56" y="75.3" width="2.3" height="2.7" fill="#b5142c" stroke="#111414" stroke-width="0.85"/>
<rect x="511" y="54.2" width="1" height="28.6" fill="#1e1e1c"/>
<rect x="509.91" y="67.3" width="2.3" height="11.2" fill="#0f8068" stroke="#111414" stroke-width="0.85"/>
<rect x="513" y="65.0" width="1" height="13.0" fill="#1e1e1c"/>
<rect x="512.26" y="67.3" width="2.3" height="7.4" fill="#b5142c" stroke="#111414" stroke-width="0.85"/>
<rect x="515" y="66.0" width="1" height="20.0" fill="#1e1e1c"/>
<rect x="514.62" y="74.2" width="2.3" height="10.7" fill="#b5142c" stroke="#111414" stroke-width="0.85"/>
<rect x="518" y="83.8" width="1" height="22.4" fill="#1e1e1c"/>
<rect x="516.98" y="84.9" width="2.3" height="19.7" fill="#b5142c" stroke="#111414" stroke-width="0.85"/>
<rect x="520" y="94.0" width="1" height="27.0" fill="#1e1e1c"/>
<rect x="519.33" y="103.0" width="2.3" height="2.0" fill="#a09c92" stroke="#3c3c3a" stroke-width="0.6"/>
<rect x="522" y="94.5" width="1" height="11.5" fill="#1e1e1c"/>
<rect x="521.68" y="96.6" width="2.3" height="8.0" fill="#0f8068" stroke="#111414" stroke-width="0.85"/>
<rect x="525" y="87.0" width="1" height="19.7" fill="#1e1e1c"/>
<rect x="524.04" y="91.3" width="2.3" height="5.3" fill="#0f8068" stroke="#111414" stroke-width="0.85"/>
<rect x="527" y="85.4" width="1" height="13.9" fill="#1e1e1c"/>
<rect x="526.39" y="91.0" width="2.3" height="1.5" fill="#a09c92" stroke="#3c3c3a" stroke-width="0.6"/>
<rect x="529" y="85.4" width="1" height="29.3" fill="#1e1e1c"/>
<rect x="528.75" y="91.5" width="2.3" height="18.5" fill="#b5142c" stroke="#111414" stroke-width="0.85"/>
<rect x="532" y="108.9" width="1" height="14.8" fill="#1e1e1c"/>
<rect x="531.11" y="110.0" width="2.3" height="4.5" fill="#b5142c" stroke="#111414" stroke-width="0.85"/>
<rect x="534" y="106.7" width="1" height="14.9" fill="#1e1e1c"/>
<rect x="533.46" y="110.5" width="2.3" height="4.0" fill="#0f8068" stroke="#111414" stroke-width="0.85"/>
<rect x="536" y="107.8" width="1" height="14.9" fill="#1e1e1c"/>
<rect x="535.81" y="110.5" width="2.3" height="3.5" fill="#b5142c" stroke="#111414" stroke-width="0.85"/>
<rect x="539" y="100.3" width="1" height="16.0" fill="#1e1e1c"/>
<rect x="538.17" y="105.7" width="2.3" height="8.5" fill="#0f8068" stroke="#111414" stroke-width="0.85"/>
<rect x="541" y="81.7" width="1" height="24.3" fill="#1e1e1c"/>
<rect x="540.52" y="102.0" width="2.3" height="3.0" fill="#a09c92" stroke="#3c3c3a" stroke-width="0.6"/>
<rect x="544" y="83.3" width="1" height="20.7" fill="#1e1e1c"/>
<rect x="542.88" y="94.5" width="2.3" height="8.5" fill="#0f8068" stroke="#111414" stroke-width="0.85"/>
<rect x="546" y="86.0" width="1" height="24.5" fill="#1e1e1c"/>
<rect x="545.24" y="94.5" width="2.3" height="15.4" fill="#b5142c" stroke="#111414" stroke-width="0.85"/>
<rect x="548" y="108.0" width="1" height="16.8" fill="#1e1e1c"/>
<rect x="547.59" y="109.9" width="2.3" height="14.1" fill="#b5142c" stroke="#111414" stroke-width="0.85"/>
<rect x="551" y="122.0" width="1" height="18.0" fill="#1e1e1c"/>
<rect x="549.94" y="122.5" width="2.3" height="11.5" fill="#b5142c" stroke="#111414" stroke-width="0.85"/>
<rect x="553" y="129.0" width="1" height="30.7" fill="#1e1e1c"/>
<rect x="552.30" y="133.7" width="2.3" height="10.2" fill="#b5142c" stroke="#111414" stroke-width="0.85"/>
<rect x="555" y="133.0" width="1" height="25.3" fill="#1e1e1c"/>
<rect x="554.65" y="134.0" width="2.3" height="13.0" fill="#a09c92" stroke="#3c3c3a" stroke-width="0.6"/>
<rect x="558" y="134.0" width="1" height="38.5" fill="#1e1e1c"/>
<rect x="557.01" y="143.9" width="2.3" height="4.7" fill="#b5142c" stroke="#111414" stroke-width="0.85"/>
<rect x="560" y="120.5" width="1" height="28.5" fill="#1e1e1c"/>
<rect x="559.37" y="131.1" width="2.3" height="16.4" fill="#0f8068" stroke="#111414" stroke-width="0.85"/>
<rect x="562" y="115.8" width="1" height="26.2" fill="#1e1e1c"/>
<rect x="561.72" y="131.0" width="2.3" height="10.8" fill="#a09c92" stroke="#3c3c3a" stroke-width="0.6"/>
<rect x="565" y="129.0" width="1" height="16.0" fill="#1e1e1c"/>
<rect x="564.07" y="130.7" width="2.3" height="14.1" fill="#a09c92" stroke="#3c3c3a" stroke-width="0.6"/>
<rect x="567" y="115.0" width="1" height="18.5" fill="#1e1e1c"/>
<rect x="566.43" y="119.6" width="2.3" height="13.2" fill="#0f8068" stroke="#111414" stroke-width="0.85"/>
<rect x="569" y="103.5" width="1" height="17.5" fill="#1e1e1c"/>
<rect x="568.78" y="104.6" width="2.3" height="15.5" fill="#0f8068" stroke="#111414" stroke-width="0.85"/>
<rect x="572" y="103.0" width="1" height="7.0" fill="#1e1e1c"/>
<rect x="571.14" y="105.8" width="2.3" height="2.8" fill="#b5142c" stroke="#111414" stroke-width="0.85"/>
<rect x="574" y="106.0" width="1" height="11.8" fill="#1e1e1c"/>
<rect x="573.50" y="108.6" width="2.3" height="4.6" fill="#b5142c" stroke="#111414" stroke-width="0.85"/>
<rect x="577" y="81.8" width="1" height="15.3" fill="#1e1e1c"/>
<rect x="575.85" y="84.0" width="2.3" height="6.6" fill="#0f8068" stroke="#111414" stroke-width="0.85"/>
<rect x="579" y="69.0" width="1" height="28.1" fill="#1e1e1c"/>
<rect x="578.20" y="84.5" width="2.3" height="6.1" fill="#b5142c" stroke="#111414" stroke-width="0.85"/>
<rect x="581" y="81.5" width="1" height="10.4" fill="#1e1e1c"/>
<rect x="580.56" y="82.3" width="2.3" height="8.6" fill="#a09c92" stroke="#3c3c3a" stroke-width="0.6"/>
<rect x="584" y="66.2" width="1" height="24.8" fill="#1e1e1c"/>
<rect x="582.91" y="77.0" width="2.3" height="13.6" fill="#0f8068" stroke="#111414" stroke-width="0.85"/>
<rect x="586" y="67.6" width="1" height="33.7" fill="#1e1e1c"/>
<rect x="585.27" y="77.4" width="2.3" height="16.9" fill="#b5142c" stroke="#111414" stroke-width="0.85"/>
<rect x="588" y="93.5" width="1" height="10.1" fill="#1e1e1c"/>
<rect x="587.62" y="95.0" width="2.3" height="8.2" fill="#a09c92" stroke="#3c3c3a" stroke-width="0.6"/>
<text x="634" y="23.70" font-family="'Liberation Sans', Arial, sans-serif" font-size="11" fill="#2a2e39" stroke="#2a2e39" stroke-width="0.35" textLength="36.5" lengthAdjust="spacing">1.18000</text>
<text x="634" y="55.14" font-family="'Liberation Sans', Arial, sans-serif" font-size="11" fill="#2a2e39" stroke="#2a2e39" stroke-width="0.35" textLength="36.5" lengthAdjust="spacing">1.17800</text>
<text x="634" y="86.58" font-family="'Liberation Sans', Arial, sans-serif" font-size="11" fill="#2a2e39" stroke="#2a2e39" stroke-width="0.35" textLength="36.5" lengthAdjust="spacing">1.17600</text>
<text x="634" y="118.02" font-family="'Liberation Sans', Arial, sans-serif" font-size="11" fill="#2a2e39" stroke="#2a2e39" stroke-width="0.35" textLength="36.5" lengthAdjust="spacing">1.17400</text>
<text x="634" y="149.46" font-family="'Liberation Sans', Arial, sans-serif" font-size="11" fill="#2a2e39" stroke="#2a2e39" stroke-width="0.35" textLength="36.5" lengthAdjust="spacing">1.17200</text>
<text x="634" y="180.90" font-family="'Liberation Sans', Arial, sans-serif" font-size="11" fill="#2a2e39" stroke="#2a2e39" stroke-width="0.35" textLength="36.5" lengthAdjust="spacing">1.17000</text>
<text x="634" y="212.34" font-family="'Liberation Sans', Arial, sans-serif" font-size="11" fill="#2a2e39" stroke="#2a2e39" stroke-width="0.35" textLength="36.5" lengthAdjust="spacing">1.16800</text>
<text x="634" y="243.78" font-family="'Liberation Sans', Arial, sans-serif" font-size="11" fill="#2a2e39" stroke="#2a2e39" stroke-width="0.35" textLength="36.5" lengthAdjust="spacing">1.16600</text>
<text x="634" y="275.22" font-family="'Liberation Sans', Arial, sans-serif" font-size="11" fill="#2a2e39" stroke="#2a2e39" stroke-width="0.35" textLength="36.5" lengthAdjust="spacing">1.16400</text>
<text x="634" y="306.66" font-family="'Liberation Sans', Arial, sans-serif" font-size="11" fill="#2a2e39" stroke="#2a2e39" stroke-width="0.35" textLength="36.5" lengthAdjust="spacing">1.16200</text>
<text x="634" y="338.10" font-family="'Liberation Sans', Arial, sans-serif" font-size="11" fill="#2a2e39" stroke="#2a2e39" stroke-width="0.35" textLength="36.5" lengthAdjust="spacing">1.16000</text>
<text x="634" y="369.54" font-family="'Liberation Sans', Arial, sans-serif" font-size="11" fill="#2a2e39" stroke="#2a2e39" stroke-width="0.35" textLength="36.5" lengthAdjust="spacing">1.15800</text>
<text x="634" y="400.98" font-family="'Liberation Sans', Arial, sans-serif" font-size="11" fill="#2a2e39" stroke="#2a2e39" stroke-width="0.35" textLength="36.5" lengthAdjust="spacing">1.15600</text>
<text x="634" y="432.42" font-family="'Liberation Sans', Arial, sans-serif" font-size="11" fill="#2a2e39" stroke="#2a2e39" stroke-width="0.35" textLength="36.5" lengthAdjust="spacing">1.15400</text>
<rect x="627" y="29.20" width="49.5" height="14.6" rx="1" fill="#2962ff"/>
<text x="634" y="40.40" font-family="'Liberation Sans', Arial, sans-serif" font-size="11" fill="#ffffff" stroke="#ffffff" stroke-width="0.4" textLength="36.8" lengthAdjust="spacing">1.17895</text>
<rect x="627" y="164.90" width="49.5" height="14.6" rx="1" fill="#2962ff"/>
<text x="634" y="176.10" font-family="'Liberation Sans', Arial, sans-serif" font-size="11" fill="#ffffff" stroke="#ffffff" stroke-width="0.4" textLength="36.8" lengthAdjust="spacing">1.17031</text>
<rect x="627" y="212.80" width="49.5" height="14.6" rx="1" fill="#2962ff"/>
<text x="634" y="224.00" font-family="'Liberation Sans', Arial, sans-serif" font-size="11" fill="#ffffff" stroke="#ffffff" stroke-width="0.4" textLength="36.8" lengthAdjust="spacing">1.16725</text>
<rect x="627" y="395.40" width="49.5" height="14.6" rx="1" fill="#2962ff"/>
<text x="634" y="406.60" font-family="'Liberation Sans', Arial, sans-serif" font-size="11" fill="#ffffff" stroke="#ffffff" stroke-width="0.4" textLength="36.8" lengthAdjust="spacing">1.15564</text>
<rect x="627" y="88.20" width="49.5" height="14.6" rx="1" fill="#22a08a"/>
<text x="634" y="99.40" font-family="'Liberation Sans', Arial, sans-serif" font-size="11" fill="#ffffff" stroke="#ffffff" stroke-width="0.4" textLength="36.8" lengthAdjust="spacing">1.17522</text>
<text x="11.40" y="461.0" font-family="'Liberation Sans', Arial, sans-serif" font-size="10.6" fill="#2a2e39" stroke="#2a2e39" stroke-width="0.3" text-anchor="middle" letter-spacing="-0.5">14</text>
<text x="67.92" y="461.0" font-family="'Liberation Sans', Arial, sans-serif" font-size="10.6" fill="#2a2e39" stroke="#2a2e39" stroke-width="0.3" text-anchor="middle" letter-spacing="-0.5">15</text>
<text x="124.44" y="461.0" font-family="'Liberation Sans', Arial, sans-serif" font-size="10.6" fill="#2a2e39" stroke="#2a2e39" stroke-width="0.3" text-anchor="middle" letter-spacing="-0.5">16</text>
<text x="180.96" y="461.0" font-family="'Liberation Sans', Arial, sans-serif" font-size="10.6" fill="#2a2e39" stroke="#2a2e39" stroke-width="0.3" text-anchor="middle" letter-spacing="-0.5">17</text>
<text x="237.48" y="461.0" font-family="'Liberation Sans', Arial, sans-serif" font-size="10.6" fill="#2a2e39" stroke="#2a2e39" stroke-width="0.3" text-anchor="middle" letter-spacing="-0.5">18</text>
<text x="294.00" y="461.0" font-family="'Liberation Sans', Arial, sans-serif" font-size="10.6" fill="#2a2e39" stroke="#2a2e39" stroke-width="0.3" text-anchor="middle" letter-spacing="-0.5">21</text>
<text x="350.52" y="461.0" font-family="'Liberation Sans', Arial, sans-serif" font-size="10.6" fill="#2a2e39" stroke="#2a2e39" stroke-width="0.3" text-anchor="middle" letter-spacing="-0.5">22</text>
<text x="407.04" y="461.0" font-family="'Liberation Sans', Arial, sans-serif" font-size="10.6" fill="#2a2e39" stroke="#2a2e39" stroke-width="0.3" text-anchor="middle" letter-spacing="-0.5">23</text>
<text x="463.56" y="461.0" font-family="'Liberation Sans', Arial, sans-serif" font-size="10.6" fill="#2a2e39" stroke="#2a2e39" stroke-width="0.3" text-anchor="middle" letter-spacing="-0.5">24</text>
<text x="520.08" y="461.0" font-family="'Liberation Sans', Arial, sans-serif" font-size="10.6" fill="#2a2e39" stroke="#2a2e39" stroke-width="0.3" text-anchor="middle" letter-spacing="-0.5">25</text>
<text x="576.60" y="461.0" font-family="'Liberation Sans', Arial, sans-serif" font-size="10.6" fill="#2a2e39" stroke="#2a2e39" stroke-width="0.3" text-anchor="middle" letter-spacing="-0.5">28</text>
<polygon points="660.15,457.90 657.00,463.36 650.70,463.36 647.55,457.90 650.70,452.44 657.00,452.44" fill="none" stroke="#2a2e39" stroke-width="1.2"/>
<circle cx="653.85" cy="457.9" r="1.55" fill="none" stroke="#2a2e39" stroke-width="1.15"/>
</svg>
</body></html>
